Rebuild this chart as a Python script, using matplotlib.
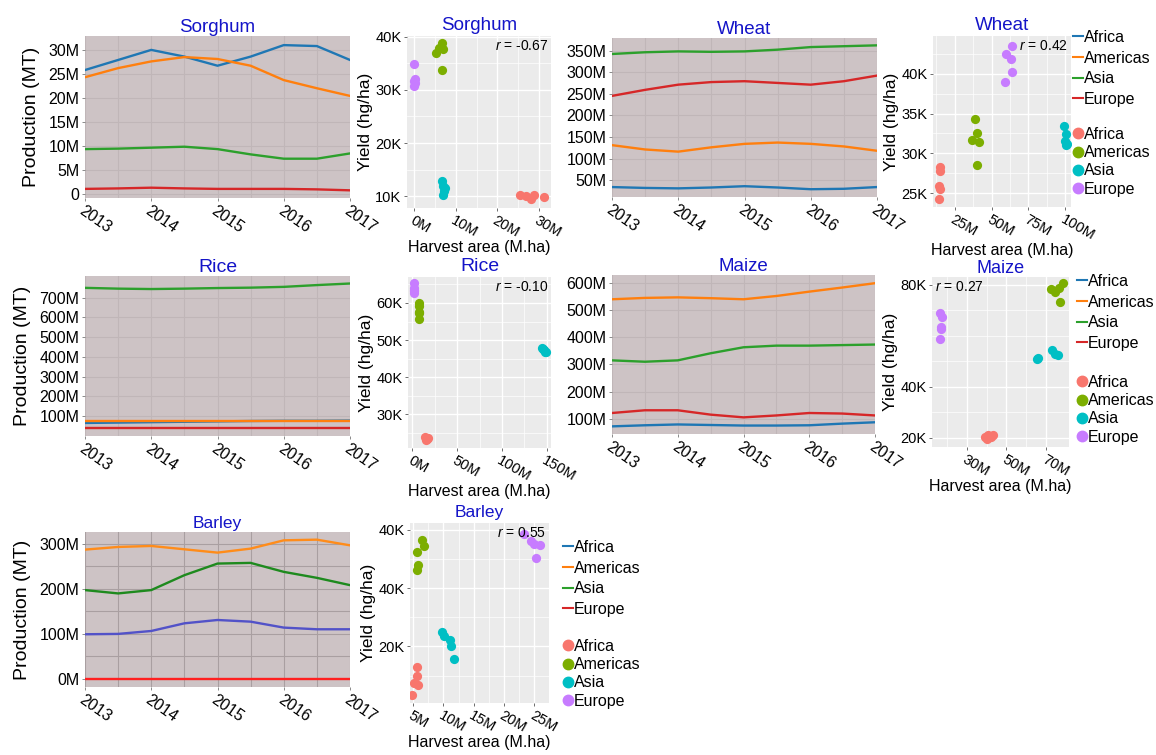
import matplotlib
matplotlib.use("Agg")
import matplotlib.pyplot as plt
from matplotlib.lines import Line2D
from matplotlib.ticker import FixedLocator

plt.rcParams["font.family"] = ["Liberation Sans", "DejaVu Sans"]
plt.rcParams["mathtext.fontset"] = "custom"
plt.rcParams["mathtext.it"] = "Liberation Sans:italic"
plt.rcParams["mathtext.rm"] = "Liberation Sans"

W, H = 1156, 755

REGIONS = ["Africa", "Americas", "Asia", "Europe"]
YEARS = [2013, 2013.5, 2014, 2014.5, 2015, 2015.5, 2016, 2016.5, 2017]

# production (million tonnes), read at half-year steps
SORGHUM_PROD = {
    "Africa": [25.8, 27.9, 30.0, 28.6, 26.7, 28.6, 31.0, 30.8, 27.9],
    "Americas": [24.3, 26.2, 27.6, 28.5, 28.1, 26.7, 23.7, 22.0, 20.4],
    "Asia": [9.3, 9.4, 9.6, 9.8, 9.3, 8.2, 7.3, 7.3, 8.4],
    "Europe": [1.0, 1.1, 1.25, 1.1, 1.0, 1.0, 1.0, 0.9, 0.7],
}
WHEAT_PROD = {
    "Africa": [34, 32, 31, 33, 36, 33, 29, 30, 34],
    "Americas": [131, 121, 116, 126, 134, 137, 134, 128, 118],
    "Asia": [342, 346, 348, 347, 348, 352, 358, 360, 362],
    "Europe": [245, 259, 271, 277, 279, 275, 271, 279, 292],
}
RICE_PROD = {
    "Africa": [66, 68, 70, 72, 74, 76, 77, 77, 78],
    "Americas": [78, 78, 78, 78, 78, 78, 78, 78, 78],
    "Asia": [750, 746, 744, 746, 749, 751, 755, 764, 772],
    "Europe": [41, 41, 41, 41, 41, 41, 41, 41, 41],
}
MAIZE_PROD = {
    "Africa": [73, 77, 80, 78, 76, 76, 77, 83, 88],
    "Americas": [539, 544, 546, 543, 539, 551, 567, 582, 598],
    "Asia": [315, 310, 315, 341, 363, 369, 369, 371, 373],
    "Europe": [122, 132, 132, 116, 106, 113, 122, 120, 113],
}
BARLEY_PROD = {
    "Africa": [98.7, 99.5, 106, 123, 130.4, 126.7, 113.5, 109.8, 109.8],
    "Americas": [286.7, 292.6, 294.8, 287.4, 280, 288.9, 307.3, 308.8, 296.2],
    "Asia": [196.8, 189.4, 196.8, 229.9, 255.7, 257.2, 237.3, 224, 207.8],
    "Europe": [0, 0, 0, 0, 0, 0, 0, 0, 0],
}

# harvest area (M ha) vs yield (K hg/ha)
SORGHUM_AREA = {
    "Africa": [25.6, 26.9, 28.1, 28.9, 31.3],
    "Americas": [5.1, 5.9, 6.7, 6.9, 6.7],
    "Asia": [6.6, 6.9, 7.2, 6.8, 7.4],
    "Europe": [0.0, 0.1, 0.0, 0.1, 0.0],
}
SORGHUM_YIELD = {
    "Africa": [10.3, 10.0, 9.5, 10.3, 9.9],
    "Americas": [36.9, 37.9, 38.7, 37.7, 33.7],
    "Asia": [12.8, 11.9, 10.9, 10.3, 11.6],
    "Europe": [34.9, 32.0, 31.6, 31.2, 30.8],
}
WHEAT_AREA = {
    "Africa": [14.8, 15.0, 14.6, 15.2, 14.5],
    "Americas": [38.6, 39.8, 37.0, 41.6, 39.8],
    "Asia": [99.5, 100.5, 100.0, 101.0, 100.8],
    "Europe": [63.6, 59.8, 63.0, 63.6, 59.1],
}
WHEAT_YIELD = {
    "Africa": [28.3, 27.8, 25.9, 25.5, 24.3],
    "Americas": [34.3, 32.5, 31.7, 31.4, 28.5],
    "Asia": [33.4, 32.4, 31.6, 31.2, 31.0],
    "Europe": [43.5, 42.4, 41.8, 40.2, 39.0],
}
RICE_AREA = {
    "Africa": [14, 15, 16, 17, 15.5],
    "Americas": [7.5, 7.3, 7.6, 7.4, 7.5],
    "Asia": [145, 146, 147, 148, 149],
    "Europe": [1.5, 1.7, 1.4, 1.6, 1.5],
}
RICE_YIELD = {
    "Africa": [23.9, 23.5, 23.2, 23.7, 23.0],
    "Americas": [60.0, 59.2, 57.6, 57.3, 55.8],
    "Asia": [47.9, 47.5, 47.2, 46.9, 46.8],
    "Europe": [65.4, 64.0, 63.1, 62.7, 63.5],
}
MAIZE_AREA = {
    "Africa": [39.2, 40.8, 43.0, 40.0, 42.0],
    "Americas": [72.5, 74.2, 76.3, 78.3, 77.0],
    "Asia": [65.3, 73.0, 74.2, 75.8, 65.8],
    "Europe": [16.9, 17.5, 17.2, 17.0, 16.7],
}
MAIZE_YIELD = {
    "Africa": [20.4, 21.0, 21.2, 19.5, 20.3],
    "Americas": [78.1, 77.2, 78.5, 80.8, 73.3],
    "Asia": [50.7, 54.2, 52.9, 52.3, 51.1],
    "Europe": [68.8, 67.2, 63.2, 62.7, 58.5],
}
BARLEY_AREA = {
    "Africa": [5.6, 5.6, 5.2, 5.8, 4.9],
    "Americas": [6.4, 6.8, 5.6, 5.8, 5.6],
    "Asia": [9.8, 10.1, 11.1, 11.2, 11.8],
    "Europe": [23.3, 24.5, 25.0, 25.9, 25.3],
}
BARLEY_YIELD = {
    "Africa": [12.8, 9.7, 7.4, 6.9, 3.2],
    "Americas": [56.4, 54.4, 52.3, 47.8, 46.3],
    "Asia": [24.9, 23.4, 22.3, 20.0, 15.8],
    "Europe": [58.5, 56.2, 55.1, 54.6, 50.3],
}

LINE_COLORS = {"Africa": "#1f77b4", "Americas": "#ff7f0e", "Asia": "#2ca02c", "Europe": "#d62728"}
BARLEY_COLORS = {"Africa": "#5252c8", "Americas": "#ff8c1a", "Asia": "#1e8a1e", "Europe": "#ff2020"}
POINT_COLORS = {"Africa": "#F8766D", "Americas": "#7CAE00", "Asia": "#00BFC4", "Europe": "#C77CFF"}
TITLE_COLOR = "#1414c8"

fig = plt.figure(figsize=(W / 100, H / 100), dpi=100)


def px_axes(x0, y0, x1, y1):
    return fig.add_axes([x0 / W, 1 - y1 / H, (x1 - x0) / W, (y1 - y0) / H])


def line_panel(rect, title, data, ylim, yticks, ylabels, colors, grid_color="#c0b6b8",
               ylabel=False, title_size=13.5, yminor=()):
    ax = px_axes(*rect)
    ax.set_facecolor("#cdc3c5")
    for r in REGIONS:
        ax.plot(YEARS, data[r], color=colors[r], lw=1.7)
    ax.set_xlim(2013, 2017)
    ax.set_ylim(*ylim)
    ax.set_xticks([2013, 2014, 2015, 2016, 2017])
    ax.set_xticklabels(["2013", "2014", "2015", "2016", "2017"], rotation=-35,
                       ha="left", va="top", rotation_mode="anchor", fontsize=11.5)
    ax.set_yticks(yticks)
    ax.set_yticklabels(ylabels, fontsize=11.5)
    ax.xaxis.set_minor_locator(FixedLocator([2013.5, 2014.5, 2015.5, 2016.5]))
    ax.yaxis.set_minor_locator(FixedLocator(list(yminor)))
    ax.grid(which="both", color=grid_color, lw=0.8)
    ax.set_axisbelow(True)
    ax.tick_params(length=2, width=0.6, color="#777777", pad=2)
    ax.tick_params(which="minor", length=0)
    for s in ax.spines.values():
        s.set_visible(False)
    ax.set_title(title, color=TITLE_COLOR, fontsize=title_size, pad=3)
    if ylabel:
        ax.set_ylabel("Production (MT)", fontsize=14, labelpad=6)
    return ax


def scatter_panel(rect, title, xs, ys, xlim, xticks, xlabels, ylim, yticks, ylabels,
                  xminor, yminor, rtext, rpos="right", title_size=13.5, title_pad=4):
    ax = px_axes(*rect)
    ax.set_facecolor("#ebebeb")
    for r in REGIONS:
        ax.scatter(xs[r], ys[r], s=44, color=POINT_COLORS[r], zorder=3, linewidths=0)
    ax.set_xlim(*xlim)
    ax.set_ylim(*ylim)
    ax.set_xticks(xticks)
    ax.set_xticklabels(xlabels, rotation=-30, ha="left", va="top",
                       rotation_mode="anchor", fontsize=10.5)
    ax.set_yticks(yticks)
    ax.set_yticklabels(ylabels, fontsize=10.5)
    ax.xaxis.set_minor_locator(FixedLocator(xminor))
    ax.yaxis.set_minor_locator(FixedLocator(yminor))
    ax.grid(which="major", color="white", lw=1.0)
    ax.grid(which="minor", color="white", lw=0.5)
    ax.set_axisbelow(True)
    ax.tick_params(length=2, width=0.6, color="#555555", pad=2)
    ax.tick_params(which="minor", length=0)
    for s in ax.spines.values():
        s.set_visible(False)
    ax.set_title(title, color=TITLE_COLOR, fontsize=title_size, pad=title_pad)
    ax.set_ylabel("Yield (hg/ha)", fontsize=12.5, labelpad=2)
    ax.set_xlabel("Harvest area (M.ha)", fontsize=11.5, labelpad=0)
    if rpos == "right":
        ax.text(0.98, 0.985, rtext, transform=ax.transAxes, ha="right", va="top", fontsize=10)
    else:
        ax.text(0.02, 0.985, rtext, transform=ax.transAxes, ha="left", va="top", fontsize=10)
    return ax


def legends(x, y_lines, y_points):
    lh = [Line2D([], [], color=LINE_COLORS[r], lw=1.5) for r in REGIONS]
    fig.legend(lh, REGIONS, loc="upper left", bbox_to_anchor=(x / W, 1 - y_lines / H),
               frameon=False, fontsize=11.5, handlelength=0.6, handletextpad=0.1,
               labelspacing=0.35, borderpad=0, borderaxespad=0)
    ph = [Line2D([], [], color=POINT_COLORS[r], marker="o", ls="", markersize=7.5) for r in REGIONS]
    fig.legend(ph, REGIONS, loc="upper left", bbox_to_anchor=(x / W, 1 - y_points / H),
               frameon=False, fontsize=11.5, handlelength=0.6, handletextpad=0.1,
               labelspacing=0.2, borderpad=0, borderaxespad=0)


# row 1
line_panel((85, 36, 350, 198), "Sorghum", SORGHUM_PROD, (-0.9, 32.9),
           [0, 5, 10, 15, 20, 25, 30], ["0", "5M", "10M", "15M", "20M", "25M", "30M"],
           LINE_COLORS, ylabel=True)
scatter_panel((407, 36, 551, 208), "Sorghum", SORGHUM_AREA, SORGHUM_YIELD,
              (-1.8, 33), [0, 10, 20, 30], ["0M", "10M", "20M", "30M"],
              (7.8, 40.1), [10, 20, 30, 40], ["10K", "20K", "30K", "40K"],
              [5, 15, 25], [15, 25, 35], r"$r$ = -0.67")
line_panel((612, 38, 877, 197), "Wheat", WHEAT_PROD, (11, 379),
           [50, 100, 150, 200, 250, 300, 350],
           ["50M", "100M", "150M", "200M", "250M", "300M", "350M"], LINE_COLORS)
scatter_panel((933, 36, 1071, 207), "Wheat", WHEAT_AREA, WHEAT_YIELD,
              (10.2, 104), [25, 50, 75, 100], ["25M", "50M", "75M", "100M"],
              (23.3, 44.7), [25, 30, 35, 40], ["25K", "30K", "35K", "40K"],
              [12.5, 37.5, 62.5, 87.5], [27.5, 32.5, 37.5, 42.5], r"$r$ = 0.42")
legends(1073, 30, 127)

# row 2
line_panel((85, 276, 350, 436), "Rice", RICE_PROD, (0, 810),
           [100, 200, 300, 400, 500, 600, 700],
           ["100M", "200M", "300M", "400M", "500M", "600M", "700M"],
           LINE_COLORS, ylabel=True, title_size=14)
scatter_panel((408, 277, 551, 448), "Rice", RICE_AREA, RICE_YIELD,
              (-5, 155), [0, 50, 100, 150], ["0M", "50M", "100M", "150M"],
              (20.9, 67), [30, 40, 50, 60], ["30K", "40K", "50K", "60K"],
              [25, 75, 125], [25, 35, 45, 55, 65], r"$r$ = -0.10", title_size=14)
line_panel((612, 275, 875, 434), "Maize", MAIZE_PROD, (45, 628),
           [100, 200, 300, 400, 500, 600],
           ["100M", "200M", "300M", "400M", "500M", "600M"], LINE_COLORS)
scatter_panel((932, 277, 1069, 447), "Maize", MAIZE_AREA, MAIZE_YIELD,
              (12.7, 81.3), [30, 50, 70], ["30M", "50M", "70M"],
              (16.3, 83), [20, 40, 80], ["20K", "40K", "80K"],
              [20, 40, 60], [30, 50, 60, 70], r"$r$ = 0.27", rpos="left",
              title_size=13, title_pad=0)
legends(1077, 274, 375)

# row 3
line_panel((85, 532, 350, 687), "Barley", BARLEY_PROD, (-18.4, 325.8),
           [0, 100, 200, 300], ["0M", "100M", "200M", "300M"],
           BARLEY_COLORS, grid_color="#a99fa1", ylabel=True, title_size=12.5,
           yminor=[50, 150, 250])
scatter_panel((410, 523, 549, 703), "Barley", BARLEY_AREA, BARLEY_YIELD,
              (4.5, 27.4), [5, 10, 15, 20, 25], ["5M", "10M", "15M", "20M", "25M"],
              (0.6, 62.3), [20, 40, 60], ["20K", "40K", "40K"],
              [7.5, 12.5, 17.5, 22.5], [10, 30, 50], r"$r$ = 0.55", title_size=12.5)
legends(563, 540, 639)

fig.savefig("out.png", dpi=100)
